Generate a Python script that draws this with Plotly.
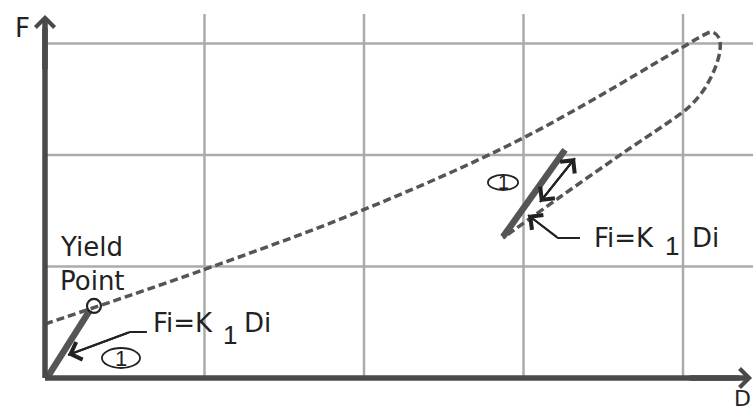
import plotly.graph_objects as go

# ---------------- data (axis units: D horizontal, F vertical) ----------------
grid_x = [1, 2, 3, 4]
grid_y = [1, 2, 3]
x_end = 4.44          # right end of horizontal grid lines
y_top = 3.265         # top end of vertical grid lines
x_axis_tip = 4.433
y_axis_tip = 3.256

# dashed hysteresis path (loading branch, loop tip, unloading branch)
loop_D = [0.0, 0.991, 1.994, 2.997, 4.0,
          4.107, 4.182, 4.226, 4.232, 4.201, 4.138, 4.063, 4.0,
          3.624, 3.229, 2.871]
loop_F = [0.484, 0.969, 1.507, 2.152, 2.969,
          3.058, 3.103, 3.049, 2.942, 2.780, 2.601, 2.466, 2.386,
          2.018, 1.623, 1.256]

# initial stiffness K1 segments
k1_low_D = [0.012, 0.282]
k1_low_F = [0.0, 0.610]
k1_high_D = [2.871, 3.260]
k1_high_F = [1.265, 2.045]

yield_D = [0.307]
yield_F = [0.646]

# double arrow along the reloading segment
dbl_D = [3.103, 3.323]
dbl_F = [1.578, 1.973]

# label leader lines: [label end, bend, arrow tip]
lead_low_D = [0.639, 0.533, 0.144]
lead_low_F = [0.413, 0.413, 0.206]
lead_high_D = [3.354, 3.216, 3.028]
lead_high_F = [1.256, 1.256, 1.462]

# circled "1" ellipses [x0, x1, y0, y1]
ell_low = [0.357, 0.596, 0.0897, 0.269]
ell_high = [2.777, 2.966, 1.686, 1.821]

# ---------------- styles ----------------
axis_col = "#4a4a4a"
line_col = "#555555"
grid_col = "#ababab"
text_col = "#222222"
font_fam = "DejaVu Sans"
digit_fam = "Liberation Sans"

fig = go.Figure()

# grid
gx, gy = [], []
for v in grid_x:
    gx += [v, v, None]
    gy += [0, y_top, None]
for v in grid_y:
    gx += [0, x_end, None]
    gy += [v, v, None]
fig.add_trace(go.Scatter(x=gx, y=gy, mode="lines",
                         line=dict(color=grid_col, width=2.5), hoverinfo="skip"))

# dashed loop
fig.add_trace(go.Scatter(x=loop_D, y=loop_F, mode="lines",
                         line=dict(color=line_col, width=3.5, dash="8px,4px",
                                   shape="spline", smoothing=1.0),
                         hoverinfo="skip"))

# thick K1 segments
for xs, ys in [(k1_low_D, k1_low_F), (k1_high_D, k1_high_F)]:
    fig.add_trace(go.Scatter(x=xs, y=ys, mode="lines",
                             line=dict(color=line_col, width=6.5), hoverinfo="skip"))

# yield point circle
fig.add_trace(go.Scatter(x=yield_D, y=yield_F, mode="markers",
                         marker=dict(symbol="circle-open", size=14, color=text_col,
                                     line=dict(color=text_col, width=2.2)),
                         hoverinfo="skip"))

# axes lines
fig.add_trace(go.Scatter(x=[0, 0], y=[0, y_axis_tip - 0.12], mode="lines",
                         line=dict(color=axis_col, width=5.5), hoverinfo="skip"))
fig.add_trace(go.Scatter(x=[0, x_axis_tip - 0.08], y=[0, 0], mode="lines",
                         line=dict(color=axis_col, width=5.5), hoverinfo="skip"))

# leader lines and double arrow shaft
for xs, ys in [(lead_low_D, lead_low_F), (lead_high_D, lead_high_F), (dbl_D, dbl_F)]:
    fig.add_trace(go.Scatter(x=xs, y=ys, mode="lines",
                             line=dict(color=text_col, width=2), hoverinfo="skip"))

annotations = []


def arrow(x_tail, y_tail, x_tip, y_tip, width, size, color):
    return dict(x=x_tip, y=y_tip, ax=x_tail, ay=y_tail,
                xref="x", yref="y", axref="x", ayref="y",
                text="", showarrow=True, arrowhead=4,
                arrowsize=size, arrowwidth=width, arrowcolor=color)


# axis arrow heads
annotations.append(arrow(0, y_axis_tip - 0.5, 0, y_axis_tip, 5.5, 0.67, axis_col))
annotations.append(arrow(x_axis_tip - 0.4, 0, x_axis_tip, 0, 5.5, 0.67, axis_col))
# leader arrows
annotations.append(arrow(lead_low_D[1], lead_low_F[1], lead_low_D[2], lead_low_F[2], 2, 1.8, text_col))
annotations.append(arrow(lead_high_D[1], lead_high_F[1], lead_high_D[2], lead_high_F[2], 2, 1.8, text_col))
# double arrow heads
annotations.append(arrow(dbl_D[0], dbl_F[0], dbl_D[1], dbl_F[1], 2, 1.8, text_col))
annotations.append(arrow(dbl_D[1], dbl_F[1], dbl_D[0], dbl_F[0], 2, 1.8, text_col))


def label(txt, x, y, size=26, xanchor="left", fam=font_fam):
    return dict(x=x, y=y, xref="x", yref="y", text=txt, showarrow=False,
                xanchor=xanchor, yanchor="middle",
                font=dict(family=fam, size=size, color=text_col))


annotations += [
    label("F", -0.144, 3.139, xanchor="center"),
    label("D", 4.31, -0.18, size=22),
    label("Yield", 0.0815, 1.175),
    label("Point", 0.0815, 0.870),
    label("Fi=K", 0.665, 0.493),
    label("1", 1.160, 0.386, xanchor="center", fam=digit_fam),
    label("Di", 1.235, 0.493),
    label("Fi=K", 3.429, 1.256),
    label("1", 3.931, 1.184, xanchor="center", fam=digit_fam),
    label("Di", 4.044, 1.256),
    label("1", (ell_low[0] + ell_low[1]) / 2, (ell_low[2] + ell_low[3]) / 2,
          size=22, xanchor="center", fam=digit_fam),
    label("1", (ell_high[0] + ell_high[1]) / 2, (ell_high[2] + ell_high[3]) / 2,
          size=20, xanchor="center", fam=digit_fam),
]

shapes = []
for e in (ell_low, ell_high):
    shapes.append(dict(type="circle", xref="x", yref="y",
                       x0=e[0], x1=e[1], y0=e[2], y1=e[3],
                       line=dict(color=text_col, width=1.8)))

fig.update_layout(
    width=753, height=413,
    margin=dict(l=0, r=0, t=0, b=0),
    paper_bgcolor="white", plot_bgcolor="white",
    showlegend=False,
    xaxis=dict(range=[-45 / 159.5, 708 / 159.5], visible=False, fixedrange=True),
    yaxis=dict(range=[-35 / 111.5, 378 / 111.5], visible=False, fixedrange=True),
    annotations=annotations,
    shapes=shapes,
)

fig.write_html("out.html", config={"displayModeBar": False},
               post_script="document.body.style.margin='0';document.body.style.overflow='hidden';")
